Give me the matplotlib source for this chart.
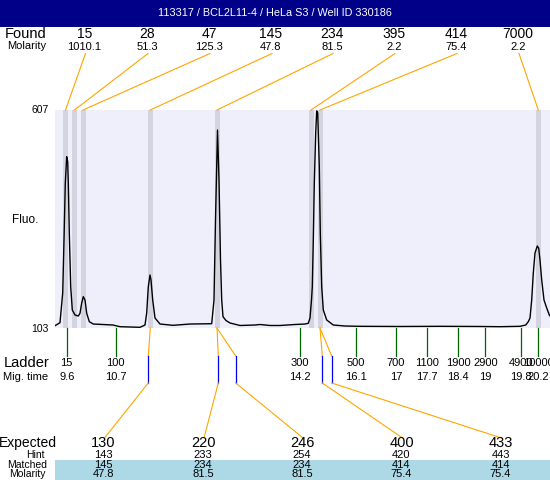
import matplotlib
matplotlib.use("Agg")
import matplotlib.pyplot as plt
from matplotlib.patches import Rectangle

plt.rcParams['font.family'] = ['Liberation Sans', 'DejaVu Sans']

title = "113317 / BCL2L11-4 / HeLa S3 / Well ID 330186"

# electropherogram trace (lane position, fluorescence)
trace_x = [55, 60, 62.7, 64, 65.3, 66.7, 67.7, 68.3, 69.3, 70.7, 72.3, 75, 78.3, 80,
           81.7, 83.3, 85, 86.7, 89.3, 93.3, 113, 120, 140, 145, 146.7, 148.3, 150,
           151, 152.7, 155, 160, 173, 190, 211.7, 214, 215.5, 217.5, 219, 220.5,
           221.7, 223, 226, 230, 240, 255, 260, 270, 280, 295, 305, 308.3, 310,
           311.5, 312.3, 313.3, 314.3, 315.7, 316.7, 317.7, 319.3, 320.3, 321.7,
           323.3, 326.7, 333.3, 345, 360, 400, 440, 480, 500, 520, 525.7, 528.3,
           530, 531.7, 533.3, 535, 537.3, 538.7, 540, 541.7, 544, 546.7, 549.3, 550]
trace_y = [108.3, 115.3, 183.9, 306.5, 438.2, 499.0, 487.5, 438.2, 322.6, 198.5,
           144.6, 133.1, 130.7, 137.0, 160.8, 175.4, 167.7, 137.0, 117.6, 112.2,
           109.9, 106.0, 104.6, 109.9, 137.7, 198.5, 225.5, 214.0, 167.7, 126.1,
           112.2, 109.2, 112.2, 112.9, 167.7, 352.7, 560.8, 445.2, 260.2, 167.7,
           129.1, 120.3, 114.6, 108.8, 109.9, 111.1, 108.8, 108.8, 111.1, 112.2,
           113.9, 126.1, 167.7, 198.5, 306.5, 438.2, 553.8, 605.0, 600.1, 475.9,
           322.6, 198.5, 144.6, 121.5, 109.9, 107.6, 106.9, 106.5, 106.9, 106.5,
           106.0, 106.9, 109.9, 117.6, 126.1, 167.7, 230.2, 276.4, 292.6, 287.3,
           260.2, 214.0, 167.7, 149.2, 133.1, 130.7]

# found peaks
found_size = ["15", "28", "47", "145", "234", "395", "414", "7000"]
found_molarity = ["1010.1", "51.3", "125.3", "47.8", "81.5", "2.2", "75.4", "2.2"]
found_pos = [65.5, 74.5, 83, 150.3, 217, 311, 320, 538.3]

# ladder
ladder_size = ["15", "100", "300", "500", "700", "1100", "1900", "2900", "4900", "10000"]
ladder_time = ["9.6", "10.7", "14.2", "16.1", "17", "17.7", "18.4", "19", "19.8", "20.2"]
ladder_pos = [66.7, 115.5, 300, 356, 396, 427.3, 458.3, 485.3, 521, 538.3]

# expected fragments
expected = ["130", "220", "246", "400", "433"]
hint = ["143", "233", "254", "420", "443"]
matched = ["145", "234", "234", "414", "414"]
matched_molarity = ["47.8", "81.5", "81.5", "75.4", "75.4"]
hint_pos = [148.3, 218.3, 235.7, 322.3, 331.7]
matched_idx = [3, 4, 4, 6, 6]

fmin, fmax = 103, 607

navy = "#000088"
lavender = "#EFEFFC"
band = "#D4D4E0"
orange = "#FFA500"
green = "#006400"
blue = "#0000FF"

fig = plt.figure(figsize=(5.5, 4.8), dpi=100)

# trace panel
ax = fig.add_axes([55 / 550, 152 / 480, 495 / 550, 218 / 480])
ax.set_facecolor(lavender)
ax.set_xlim(55, 550)
ax.set_ylim(fmin, fmax)
for s in ax.spines.values():
    s.set_visible(False)
ax.set_xticks([])
ax.set_yticks([])
for p in found_pos:
    ax.axvspan(p - 2.5, p + 2.5, color=band, lw=0)
ax.plot(trace_x, trace_y, color="black", lw=1.0, clip_on=True)

# overlay in pixel-like coordinates for the annotation layout
ov = fig.add_axes([0, 0, 1, 1], zorder=3)
ov.set_xlim(0, 550)
ov.set_ylim(480, 0)
ov.axis("off")
ov.patch.set_alpha(0)

ov.add_patch(Rectangle((0, 0), 550, 27, color=navy, lw=0))
ov.text(275, 13.5, title, color="white", fontsize=7.8, ha="center", va="center")

# found header
ov.text(26, 34, "Found", fontsize=10.5, ha="center", va="center")
ov.text(27, 46, "Molarity", fontsize=8, ha="center", va="center")
found_label_x = [84.5, 147, 209, 271, 332, 394, 456, 518]
for lx, size, mol, p in zip(found_label_x, found_size, found_molarity, found_pos):
    ov.text(lx, 34, size, fontsize=10, ha="center", va="center")
    ov.text(lx, 46.5, mol, fontsize=8, ha="center", va="center")
    ov.plot([lx + 1, p], [53.5, 110], color=orange, lw=0.8)

# y labels
ov.text(49, 110, str(fmax), fontsize=7.5, ha="right", va="center")
ov.text(49, 329, str(fmin), fontsize=7.5, ha="right", va="center")
ov.text(25, 220, "Fluo.", fontsize=8.5, ha="center", va="center")

# ladder
ov.text(27, 363, "Ladder", fontsize=10.5, ha="center", va="center")
ov.text(26, 377, "Mig. time", fontsize=8, ha="center", va="center")
for p, size, t in zip(ladder_pos, ladder_size, ladder_time):
    ov.plot([p, p], [328, 356], color=green, lw=0.9)
    ov.text(p, 363, size, fontsize=8, ha="center", va="center")
    ov.text(p, 377, t, fontsize=8, ha="center", va="center")

# expected / matched
ov.add_patch(Rectangle((55, 460), 495, 20, color="#ADD8E6", lw=0))
ov.text(27.5, 443, "Expected", fontsize=10, ha="center", va="center")
ov.text(35, 455, "Hint", fontsize=7.5, ha="center", va="center")
ov.text(27, 465, "Matched", fontsize=7.5, ha="center", va="center")
ov.text(27, 474, "Molarity", fontsize=7.5, ha="center", va="center")
expected_x = [103.5, 203, 302, 401.5, 500.5]
for i, (ex, e, h, m, mm) in enumerate(zip(expected_x, expected, hint, matched, matched_molarity)):
    src = found_pos[matched_idx[i]]
    hp = hint_pos[i]
    ov.plot([src, hp], [328, 356], color=orange, lw=0.8)
    ov.plot([hp, hp], [356, 383], color=blue, lw=0.9)
    ov.plot([hp, ex + 1], [383, 438], color=orange, lw=0.8)
    ov.text(ex, 443, e, fontsize=10.5, ha="center", va="center")
    ov.text(ex, 455, h, fontsize=8, ha="center", va="center")
    ov.text(ex, 465, m, fontsize=8, ha="center", va="center")
    ov.text(ex, 474, mm, fontsize=8, ha="center", va="center")

fig.savefig("out.png", dpi=100)
